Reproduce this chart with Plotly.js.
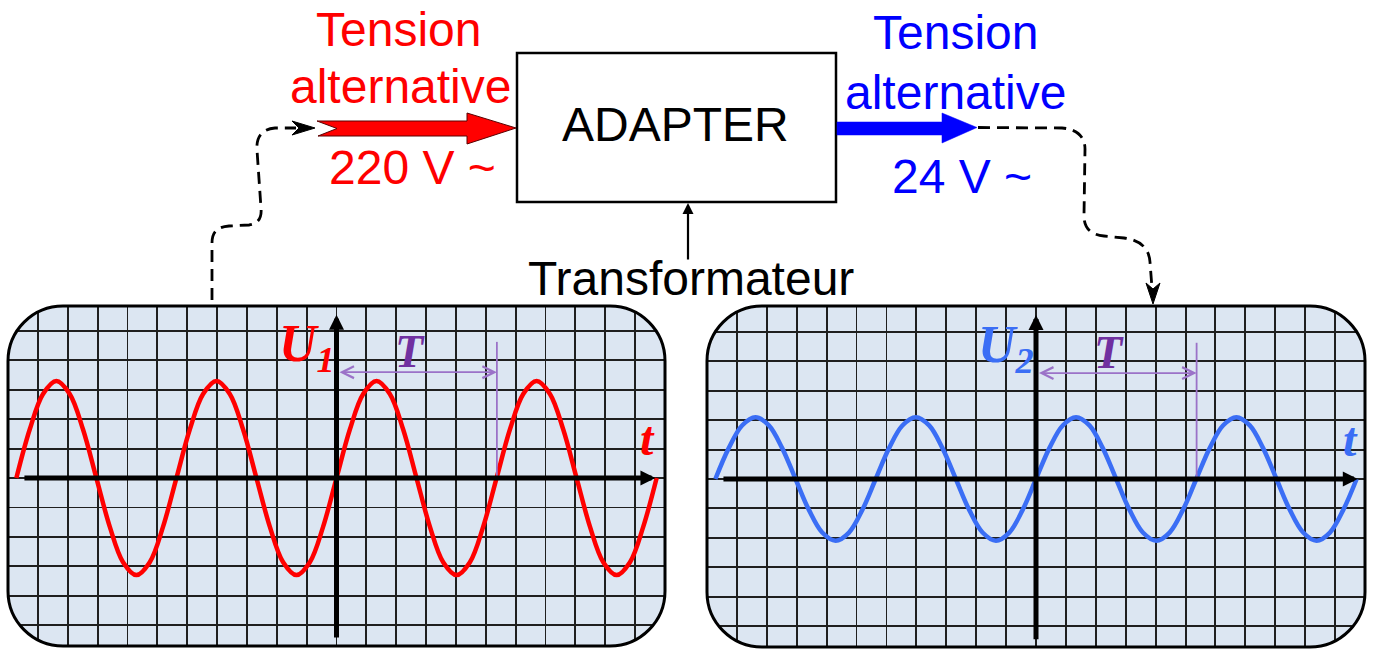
<!DOCTYPE html>
<html>
<head>
<meta charset="utf-8">
<script src="https://cdn.plot.ly/plotly-3.0.1.min.js"></script>
<style>html,body{margin:0;padding:0;background:#fff;}#chart{width:1375px;height:653px;}</style>
</head>
<body>
<div id="chart"></div>
<script>
// ---------- DATA (grid-cell units) ----------
const timeCells = [-10.72,-10.273,-9.827,-9.38,-8.933,-8.487,-8.04,-7.593,-7.147,-6.70,-6.253,-5.807,
                   -5.36,-4.913,-4.467,-4.02,-3.573,-3.127,-2.68,-2.233,-1.787,-1.34,-0.893,-0.447,
                   0,0.447,0.893,1.34,1.787,2.233,2.68,3.127,3.573,4.02,4.467,4.913,
                   5.36,5.807,6.253,6.70,7.147,7.593,8.04,8.487,8.933,9.38,9.827,10.273,10.72];
const u1Values = [0,1.65,2.86,3.3,2.86,1.65,0,-1.65,-2.86,-3.3,-2.86,-1.65,
                  0,1.65,2.86,3.3,2.86,1.65,0,-1.65,-2.86,-3.3,-2.86,-1.65,
                  0,1.65,2.86,3.3,2.86,1.65,0,-1.65,-2.86,-3.3,-2.86,-1.65,
                  0,1.65,2.86,3.3,2.86,1.65,0,-1.65,-2.86,-3.3,-2.86,-1.65,0];
const u2Values = [0,1.05,1.82,2.1,1.82,1.05,0,-1.05,-1.82,-2.1,-1.82,-1.05,
                  0,1.05,1.82,2.1,1.82,1.05,0,-1.05,-1.82,-2.1,-1.82,-1.05,
                  0,1.05,1.82,2.1,1.82,1.05,0,-1.05,-1.82,-2.1,-1.82,-1.05,
                  0,1.05,1.82,2.1,1.82,1.05,0,-1.05,-1.82,-2.1,-1.82,-1.05,0];
const periodCells = 5.37;
const inputLabels = ["Tension", "alternative", "220 V ~"];
const outputLabels = ["Tension", "alternative", "24 V ~"];
const boxLabel = "ADAPTER";
const deviceLabel = "Transformateur";

// ---------- helpers: pixel -> paper ----------
const W = 1375, H = 653;
const X = v => v / W;
const Y = v => 1 - v / H;
function P(str) {
  const tok = str.trim().split(/\s+/);
  let out = [], n = 0;
  for (const t of tok) {
    if (/^[A-Za-z]$/.test(t)) { out.push(t); n = 0; }
    else { const v = parseFloat(t); out.push(n % 2 === 0 ? X(v).toFixed(5) : Y(v).toFixed(5)); n++; }
  }
  return out.join(' ');
}
const K = 0.5523;
function roundRect(x0, y0, x1, y1, r) {
  const k = r * K;
  return P(`M ${x0+r} ${y0} L ${x1-r} ${y0} C ${x1-r+k} ${y0} ${x1} ${y0+r-k} ${x1} ${y0+r} L ${x1} ${y1-r} C ${x1} ${y1-r+k} ${x1-r+k} ${y1} ${x1-r} ${y1} L ${x0+r} ${y1} C ${x0+r-k} ${y1} ${x0} ${y1-r+k} ${x0} ${y1-r} L ${x0} ${y0+r} C ${x0} ${y0+r-k} ${x0+r-k} ${y0} ${x0+r} ${y0} Z`);
}
function cornerMasks(x0, y0, x1, y1, r) {
  const k = r * K, e = 4;
  return [
    P(`M ${x0-e} ${y0-e} L ${x0+r} ${y0-e} L ${x0+r} ${y0} C ${x0+r-k} ${y0} ${x0} ${y0+r-k} ${x0} ${y0+r} L ${x0-e} ${y0+r} Z`),
    P(`M ${x1+e} ${y0-e} L ${x1-r} ${y0-e} L ${x1-r} ${y0} C ${x1-r+k} ${y0} ${x1} ${y0+r-k} ${x1} ${y0+r} L ${x1+e} ${y0+r} Z`),
    P(`M ${x1+e} ${y1+e} L ${x1-r} ${y1+e} L ${x1-r} ${y1} C ${x1-r+k} ${y1} ${x1} ${y1-r+k} ${x1} ${y1-r} L ${x1+e} ${y1-r} Z`),
    P(`M ${x0-e} ${y1+e} L ${x0+r} ${y1+e} L ${x0+r} ${y1} C ${x0+r-k} ${y1} ${x0} ${y1-r+k} ${x0} ${y1-r} L ${x0-e} ${y1-r} Z`)
  ];
}

const panels = [
  {x0: 8, y0: 306, x1: 665, y1: 646, r: 55},
  {x0: 707, y0: 306, x1: 1365, y1: 647, r: 55}
];

const red = '#ff0000', blue = '#0000ff', waveBlue = '#3b6ef5';
const purple = '#7030a0', purpleLine = '#9b72c8';

// ---------- traces ----------
const traces = [
  {x: timeCells, y: u1Values, xaxis: 'x', yaxis: 'y', mode: 'lines',
   line: {color: red, width: 4.5, shape: 'spline', smoothing: 1}, hoverinfo: 'skip'},
  {x: timeCells, y: u2Values, xaxis: 'x2', yaxis: 'y2', mode: 'lines',
   line: {color: waveBlue, width: 4.5, shape: 'spline', smoothing: 1}, hoverinfo: 'skip'}
];

function axisCommon(extra) {
  return Object.assign({
    showgrid: true, gridcolor: '#1f1f1f', gridwidth: 1.9, dtick: 1, tick0: 0,
    zeroline: false, showticklabels: false, ticks: '', showline: false, fixedrange: true
  }, extra);
}

// ---------- shapes ----------
const shapes = [];
panels.forEach(p => {
  cornerMasks(p.x0, p.y0, p.x1, p.y1, p.r).forEach(d => shapes.push({
    type: 'path', xref: 'paper', yref: 'paper', path: d, fillcolor: '#ffffff', line: {width: 0}, layer: 'above'}));
  shapes.push({type: 'path', xref: 'paper', yref: 'paper', path: roundRect(p.x0, p.y0, p.x1, p.y1, p.r),
    line: {color: '#000', width: 3}, layer: 'above'});
});
// period marker lines
[['x','y'],['x2','y2']].forEach(([xr, yr]) => {
  shapes.push({type: 'line', xref: xr, yref: yr, x0: periodCells, x1: periodCells, y0: 0, y1: 4.63,
    line: {color: purpleLine, width: 1.8}, layer: 'above'});
});
// adapter box
shapes.push({type: 'rect', xref: 'paper', yref: 'paper', x0: X(517), x1: X(836), y0: Y(202), y1: Y(53),
  line: {color: '#000', width: 2.5}, fillcolor: '#ffffff', layer: 'above'});
// red input arrow (notched tail)
shapes.push({type: 'path', xref: 'paper', yref: 'paper',
  path: P('M 317 121 L 467 121 L 467 113 L 516 128 L 467 144 L 467 136 L 318 136 L 337 128.5 Z'),
  fillcolor: red, line: {color: '#5a0000', width: 1}, layer: 'above'});
// blue output arrow
shapes.push({type: 'path', xref: 'paper', yref: 'paper',
  path: P('M 837 122 L 942 122 L 942 113 L 977 127.5 L 942 143 L 942 135 L 837 135 Z'),
  fillcolor: blue, line: {color: blue, width: 0.5}, layer: 'above'});
// dashed connectors
shapes.push({type: 'path', xref: 'paper', yref: 'paper',
  path: P('M 212 300 L 212 243 C 212 232 217 227 229 226 L 249 225 C 258 224 262 218 261 208 L 257 150 C 256 137 262 129 275 128 L 296 128'),
  line: {color: '#000', width: 2.8, dash: '12px,7px'}, layer: 'above'});
shapes.push({type: 'path', xref: 'paper', yref: 'paper',
  path: P('M 978 127.5 L 1062 128 C 1076 129 1085 136 1085 149 L 1084 216 C 1084 228 1091 235 1104 236 L 1124 238 C 1140 240 1149 248 1150 262 L 1152 288'),
  line: {color: '#000', width: 2.8, dash: '12px,7px'}, layer: 'above'});
// connector arrowheads
shapes.push({type: 'path', xref: 'paper', yref: 'paper',
  path: P('M 292 121 L 315 128 L 292 135 L 299 128 Z'), fillcolor: '#000', line: {color: '#000', width: 1}, layer: 'above'});
shapes.push({type: 'path', xref: 'paper', yref: 'paper',
  path: P('M 1146 283 L 1153 304 L 1160 283 L 1153 289 Z'), fillcolor: '#000', line: {color: '#000', width: 1}, layer: 'above'});

// ---------- annotations ----------
const ann = [];
const sans = 'Liberation Sans, Arial, sans-serif';
const serif = 'Liberation Serif, Times New Roman, serif';
function txt(s, cx, cy, color, size) {
  ann.push({xref: 'paper', yref: 'paper', x: X(cx), y: Y(cy), text: s, showarrow: false,
    xanchor: 'center', yanchor: 'middle', font: {family: sans, size: size || 48, color: color}});
}
txt(inputLabels[0], 398, 29, red);
txt(inputLabels[1], 400, 86, red);
txt(inputLabels[2], 412, 168, red);
txt(outputLabels[0], 955, 32, blue);
txt(outputLabels[1], 955, 92, blue);
txt(outputLabels[2], 962, 176, blue);
txt(boxLabel, 675, 124, '#000');
txt(deviceLabel, 691, 278, '#000');
// transformateur arrow
ann.push({xref: 'paper', yref: 'paper', x: X(688), y: Y(203), ax: 0, ay: 58, text: '', showarrow: true,
  arrowhead: 2, arrowwidth: 2.2, arrowsize: 1, arrowcolor: '#000', standoff: 0});

const panelDefs = [
  {xr: 'x', yr: 'y', color: red, label: '<b><i>U</i></b><sub><b><i>1</i></b></sub>',
   hTail: -10.5, hTip: 10.68, vTail: -5.47, vTip: 5.55, tx: 10.43, ty: 1.36},
  {xr: 'x2', yr: 'y2', color: waveBlue, label: '<b><i>U</i></b><sub><b><i>2</i></b></sub>',
   hTail: -10.5, hTip: 10.76, vTail: -5.5, vTip: 5.57, tx: 10.5, ty: 1.33}
];
panelDefs.forEach(d => {
  // axes with arrows
  ann.push({xref: d.xr, yref: d.yr, axref: d.xr, ayref: d.yr, x: d.hTip, y: 0, ax: d.hTail, ay: 0,
    text: '', showarrow: true, arrowhead: 2, arrowwidth: 5, arrowsize: 0.6, arrowcolor: '#000', standoff: 0});
  ann.push({xref: d.xr, yref: d.yr, axref: d.xr, ayref: d.yr, x: 0, y: d.vTip, ax: 0, ay: d.vTail,
    text: '', showarrow: true, arrowhead: 2, arrowwidth: 5, arrowsize: 0.6, arrowcolor: '#000', standoff: 0});
  // period double arrow
  ann.push({xref: d.xr, yref: d.yr, axref: d.xr, ayref: d.yr, x: periodCells, y: 3.6, ax: 0.05, ay: 3.6,
    text: '', showarrow: true, arrowhead: 5, startarrowhead: 5, arrowside: 'end+start',
    arrowwidth: 1.8, arrowsize: 1.3, startarrowsize: 1.3, arrowcolor: purpleLine, standoff: 0, startstandoff: 0});
  // labels
  ann.push({xref: d.xr, yref: d.yr, x: -1.0, y: 4.45, text: d.label, showarrow: false,
    font: {family: serif, size: 52, color: d.color}});
  ann.push({xref: d.xr, yref: d.yr, x: 2.45, y: 4.3, text: '<b><i>T</i></b>', showarrow: false,
    font: {family: serif, size: 46, color: purple}});
  ann.push({xref: d.xr, yref: d.yr, x: d.tx, y: d.ty, text: '<b><i>t</i></b>', showarrow: false,
    font: {family: serif, size: 48, color: d.color}});
});

const layout = {
  width: W, height: H, margin: {l: 0, r: 0, t: 0, b: 0},
  paper_bgcolor: '#ffffff', plot_bgcolor: '#dce6f2', showlegend: false,
  xaxis: axisCommon({domain: [X(8), X(665)], range: [-11, 11]}),
  yaxis: axisCommon({domain: [Y(646), Y(306)], range: [-5.71, 5.85]}),
  xaxis2: axisCommon({domain: [X(707), X(1365)], range: [-11, 11], anchor: 'y2'}),
  yaxis2: axisCommon({domain: [Y(647), Y(306)], range: [-5.71, 5.88], anchor: 'x2'}),
  shapes: shapes, annotations: ann
};
Plotly.newPlot('chart', traces, layout, {displayModeBar: false, staticPlot: true});
</script>
</body>
</html>
